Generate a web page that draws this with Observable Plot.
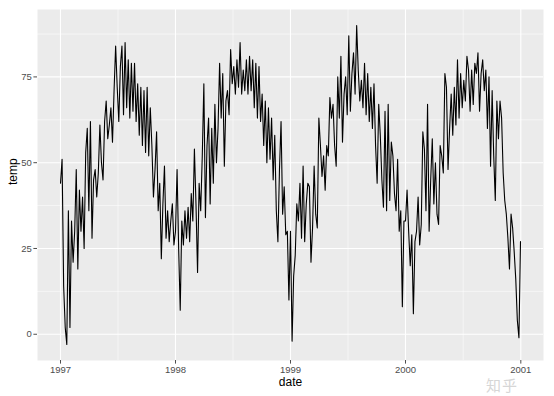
<!DOCTYPE html>
<html><head><meta charset="utf-8">
<script src="https://cdn.jsdelivr.net/npm/d3@7"></script>
<script src="https://cdn.jsdelivr.net/npm/@observablehq/plot@0.6"></script>
<style>body{margin:0;background:#fff;width:554px;height:396px;overflow:hidden;position:relative}
#wm{position:absolute;left:486px;top:376px;font-family:"Noto Sans CJK SC";font-size:15px;line-height:17px;color:#d6d6d6;letter-spacing:1px}</style>
</head><body><div id="chart"></div><div id="wm">知乎</div>
<script>
const temp1997 = [44,51,14,2,-3,36,2, 33,21,30,48,19, 42,30,40,25,53,60, 36,62,28,45,48,40,
  47,61,50,45,62,68,57, 61,66,56,71,84,72, 62,78,84,64,85,66, 80,63,79,65,79,62,
  73,58,72,55,71,53, 72,52,66,55,40,48, 59,36,44,22,38,49, 28,36,27,33,38,26];
const temp1998 = [30,48,25,7,33,26,36, 28,37,27,41,33, 54,38,18,44,36,52, 73,34,55,63,38,60,
  44,67,50,60,79,63,76, 49,68,71,64,83,73, 78,70,80,72,85,70, 77,71,80,70,81,71,
  80,66,79,63,78,62, 70,55,68,50,66,51, 63,45,58,36,27,48, 62,35,43,29,30,10];
const temp1999 = [30,-2,17,23,38,33,44, 28,49,27,38,44, 43,21,31,49,35,31, 63,55,46,52,42,55,
  52,69,63,67,55,49,75, 63,81,56,70,75,64, 87,65,76,82,70,90, 77,68,74,66,79,64,
  76,62,72,60,73,55, 44,67,58,45,37,65, 36,67,39,56,52,41, 36,51,30,36,8,33];
const temp2000 = [33,42,30,20,29,6,27, 30,40,26,32,59, 54,36,67,30,45,57, 38,50,35,32,55,52,
  47,76,72,48,60,70,58, 72,61,80,63,76,66, 74,68,81,77,65,77, 67,79,76,82,65,76,
  80,71,77,60,75,49, 71,52,39,68,57,68, 63,47,39,35,28,19, 35,31,24,16,4,-1,27];
const years = [1997, 1998, 1999, 2000];
const sampleStepDays = 5;
const yearTickLabels = [1997, 1998, 1999, 2000, 2001];
const tempTicks = [0, 25, 50, 75];

const series = [temp1997, temp1998, temp1999, temp2000];
const data = [];
years.forEach((yr, k) => series[k].forEach((t, i) =>
  data.push({date: new Date(Date.UTC(yr, 0, 1 + sampleStepDays * i)), temp: t})));

const xTicks = yearTickLabels.map(y => new Date(Date.UTC(y, 0, 1)));
const xMinor = xTicks.slice(1).map((d, i) => new Date((+d + +xTicks[i]) / 2));
const yMinor = tempTicks.map(v => v + 12.5);

const xe = d3.extent(data, d => d.date);
const xp = (xe[1] - xe[0]) * 0.05;
const ye = d3.extent(data, d => d.temp);
const yp = (ye[1] - ye[0]) * 0.05;

const chart = Plot.plot({
  width: 554, height: 396,
  marginLeft: 37, marginRight: 11, marginTop: 9, marginBottom: 36,
  style: {fontFamily: "'Liberation Sans', Arial, sans-serif", background: "white", overflow: "visible"},
  x: {type: "utc", domain: [new Date(+xe[0] - xp), new Date(+xe[1] + xp)]},
  y: {domain: [ye[0] - yp, ye[1] + yp]},
  marks: [
    Plot.frame({fill: "#EBEBEB", stroke: "none"}),
    Plot.ruleY(yMinor, {stroke: "white", strokeWidth: 0.55}),
    Plot.ruleX(xMinor, {stroke: "white", strokeWidth: 0.55}),
    Plot.ruleY(tempTicks, {stroke: "white", strokeWidth: 1.1}),
    Plot.ruleX(xTicks, {stroke: "white", strokeWidth: 1.1}),
    Plot.line(data, {x: "date", y: "temp", stroke: "black", strokeWidth: 1.1}),
    Plot.axisX({ticks: xTicks, tickFormat: d3.utcFormat("%Y"), tickSize: 3.6, tickPadding: 2, fontSize: 9.5, color: "#4D4D4D", label: null}),
    Plot.axisY({ticks: tempTicks, tickSize: 3.6, tickPadding: 2, fontSize: 9.5, color: "#4D4D4D", label: null}),
    Plot.text(["date"], {text: d => d, frameAnchor: "bottom", lineAnchor: "middle", dy: 22, fontSize: 12, fill: "black"}),
    Plot.text(["temp"], {text: d => d, frameAnchor: "left", lineAnchor: "middle", dx: -24, rotate: -90, fontSize: 12, fill: "black"})
  ]
});
document.getElementById("chart").append(chart);
</script>
</body></html>
